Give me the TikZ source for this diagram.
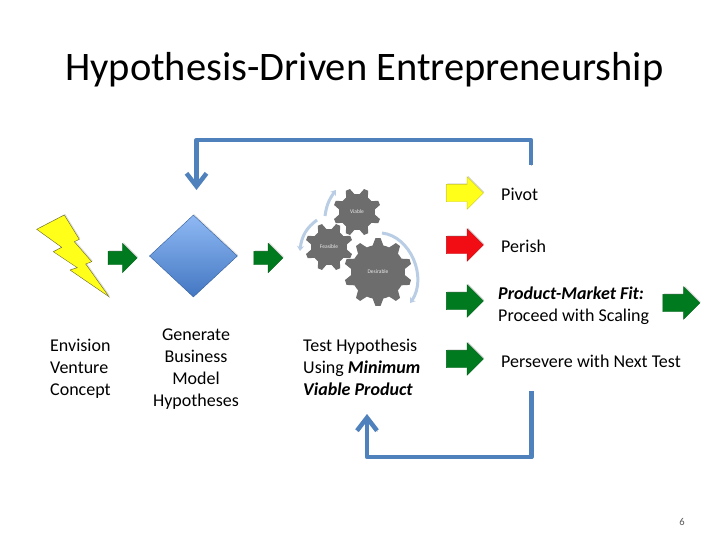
\documentclass[tikz,border=0pt]{standalone}
\usepackage{fontspec}
\setmainfont{Carlito}
\usetikzlibrary{shapes.geometric, shapes.arrows, arrows.meta, shadows, bending}
\definecolor{loopColor}{HTML}{4F81BD}
\definecolor{arcColor}{HTML}{B9CDE5}
\definecolor{gearColor}{HTML}{6D6D6D}
\definecolor{goColor}{HTML}{007A1E}
\definecolor{pivotColor}{HTML}{FFFF1A}
\definecolor{perishColor}{HTML}{F20D14}
\definecolor{gemTop}{HTML}{8FB9F4}
\definecolor{gemBottom}{HTML}{4377C2}
\tikzset{
  blockarrow/.style={single arrow, draw=#1!80!black, thin, fill=#1, minimum height=37pt, inner xsep=0pt, inner ysep=8.5pt,
    single arrow head extend=7.5pt, drop shadow={opacity=0.3, shadow xshift=1pt, shadow yshift=1pt}},
  smallarrow/.style={blockarrow=#1, minimum height=29pt, inner ysep=6.5pt, single arrow head extend=8pt},
  label/.style={font=\fontsize{18}{22}\selectfont, align=left, anchor=west, inner sep=0pt},
  loopline/.style={line width=4.5pt, loopColor, line join=round, -{Straight Barb[length=13pt, width=20pt, line width=4.5pt]},
    preaction={draw=black!22, transform canvas={shift={(0.6pt,-1.2pt)}}}},
  gearlabel/.style={font=\fontsize{5.5}{6}\selectfont, text=white!85!gearColor, inner sep=0pt},
  arcline/.style={line width=3pt, arcColor, -{Stealth[length=5pt, width=7pt, flex]}}
}
% center x, center y, outer radius, root radius, teeth
\newcommand{\drawgear}[5]{
  \begin{scope}[shift={(#1,#2)}]
    \pgfmathsetmacro{\tw}{360/#5}
    \fill[gearColor] (0:#4) \foreach \k [evaluate=\k as \a using \k*\tw] in {1,...,#5} {
      -- (\a-0.82*\tw:#4) -- (\a-0.62*\tw:#3) -- (\a-0.38*\tw:#3) -- (\a-0.18*\tw:#4) -- (\a:#4)} -- cycle;
  \end{scope}
}
\begin{document}
\begin{tikzpicture}[x=1pt, y=-1pt]
  \useasboundingbox[fill=white] (0,0) rectangle (728,546);

  \node[font=\fontsize{40.5}{44}\selectfont, anchor=west, inner sep=0pt] (title) at (65,70) {Hypothesis-Driven Entrepreneurship};

  % Idea, then hypotheses
  \fill[pivotColor, draw=black!35!olive, thin, drop shadow={opacity=0.25, shadow xshift=1pt, shadow yshift=1pt}] (36.7,229.3) -- (64.3,215) -- (79.3,239.3) -- (74.3,241.7) -- (91.7,261.7) -- (85.7,264) -- (109,296.7) -- (70,270) -- (77.3,267.7) -- (53.3,251.7) -- (61.7,247.3) -- cycle;
  \node[smallarrow=goColor] (go1) at (119.3,258) {};
  \node[diamond, draw=gemBottom!80!black, thin, top color=gemTop, bottom color=gemBottom, minimum width=88pt, minimum height=82pt, inner sep=0pt, aspect=1.07, drop shadow={opacity=0.2, shadow xshift=1pt, shadow yshift=1pt}] (gen) at (193.4,256) {};
  \node[smallarrow=goColor] (go2) at (265,258) {};

  % Gears
  \drawgear{357}{212}{24}{18}{8}
  \drawgear{329}{247}{24}{18}{8}
  \drawgear{378}{272}{34}{27}{10}
  \node[gearlabel] (viable) at (357,212) {Viable};
  \node[gearlabel] (feasible) at (329,247) {Feasible};
  \node[gearlabel] (desirable) at (378,272) {Desirable};
  \coordinate (arcAs) at (325,216);
  \coordinate (arcAe) at (336,190);
  \coordinate (arcBs) at (317,220);
  \coordinate (arcBe) at (300,251);
  \coordinate (arcCs) at (382,233);
  \coordinate (arcCe) at (410,303);
  \draw[arcline] (arcAs) to[bend left=15] (arcAe);
  \draw[arcline] (arcBs) to[bend right=25] (arcBe);
  \draw[arcline] (arcCs) to[bend left=62] (arcCe);

  % Outcomes
  \node[blockarrow=pivotColor] (pivot) at (460.5,193) {};
  \node[blockarrow=perishColor] (perish) at (460.5,245) {};
  \node[blockarrow=goColor] (fit) at (460.5,301) {};
  \node[blockarrow=goColor] (next) at (460.5,359) {};
  \node[blockarrow=goColor] (scale) at (677,303) {};

  \node[label] (pivottxt) at (501,194) {Pivot};
  \node[label] (perishtxt) at (501,246) {Perish};
  \node[label] (fittxt) at (498,305.5) {\textbf{\textit{Product-Market Fit:}}\\Proceed with Scaling};
  \node[label] (nexttxt) at (501,361) {Persevere with Next Test};

  \node[label] (envision) at (50,368.5) {Envision\\Venture\\Concept};
  \node[label, align=center, anchor=center] (generate) at (196,369) {Generate\\Business\\Model\\Hypotheses};
  \node[label] (testtxt) at (303,367.5) {Test Hypothesis\\Using \textbf{\textit{Minimum}}\\\textbf{\textit{Viable Product}}};

  % Loops back
  \coordinate (topS) at (531,165);
  \coordinate (topE) at (196.5,190);
  \coordinate (botS) at (531.5,391);
  \coordinate (botE) at (367,414);
  \draw[loopline] (topS) |- (196.5,140) -- (topE);
  \draw[loopline] (botS) |- (367,457) -- (botE);

  \node[font=\fontsize{10.5}{12}\selectfont, text=black!65, inner sep=0pt] (pagenum) at (682,522) {6};
\end{tikzpicture}
\end{document}
